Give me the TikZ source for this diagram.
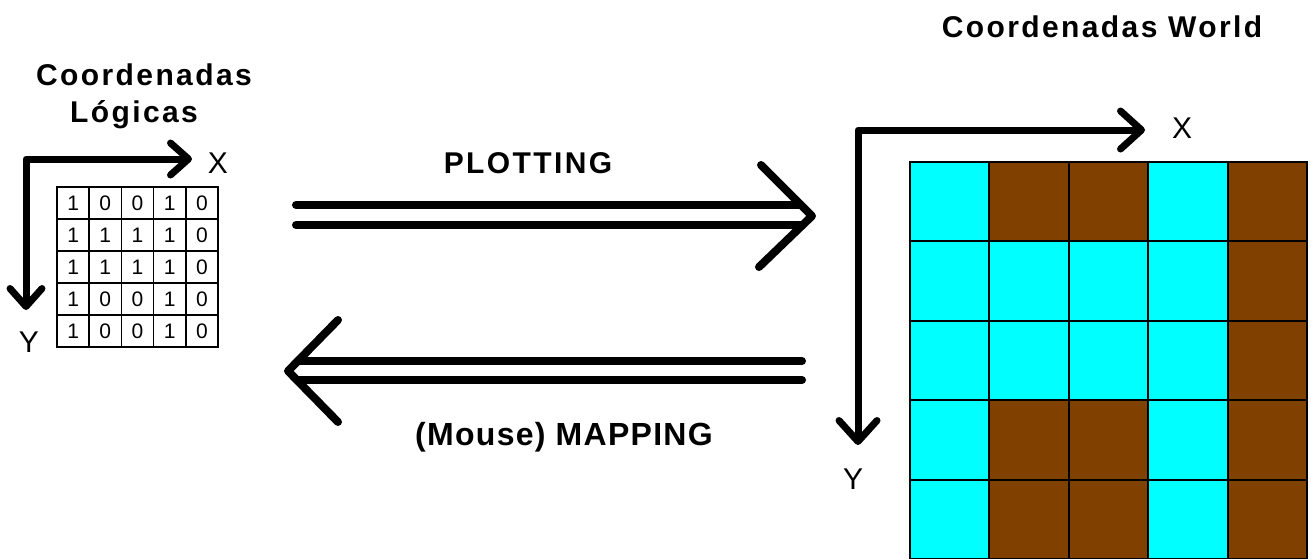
\documentclass[tikz,border=0pt]{standalone}
\usepackage{fontspec}
\setmainfont{Liberation Sans}
\newfontfamily\spaced[LetterSpace=8]{Liberation Sans}
\newfontfamily\lightspaced[LetterSpace=4]{Liberation Sans}
\usetikzlibrary{arrows.meta}
\definecolor{cy}{RGB}{0,255,255}
\definecolor{br}{RGB}{128,64,0}
\begin{document}
\begin{tikzpicture}[x=1pt,y=-1pt,
  title/.style={font=\spaced\bfseries\fontsize{30}{36}\selectfont, inner sep=0pt, anchor=base},
  plain/.style={font=\lightspaced\bfseries\fontsize{32}{38}\selectfont, inner sep=0pt, anchor=base},
  axlbl/.style={font=\fontsize{30}{36}\selectfont, inner sep=0pt},
  scell/.style={draw=black, line width=1.5pt, minimum width=32.2pt, minimum height=32pt, inner sep=0pt, font=\fontsize{21}{24}\selectfont},
  bcell/.style={draw=black, line width=2pt, minimum width=79.4pt, minimum height=79.4pt, inner sep=0pt},
  b1/.style={fill=cy}, b0/.style={fill=br},
  laxis/.style={line width=7pt, line join=round, {Straight Barb[length=18pt,width=32pt,round]}-{Straight Barb[length=18pt,width=32pt,round]}},
  raxis/.style={line width=7pt, line join=round, {Straight Barb[length=21pt,width=38pt,round]}-{Straight Barb[length=21pt,width=38pt,round]}},
  dbl/.style={line width=8pt, line cap=round, line join=round}]
\useasboundingbox (0,0) rectangle (1311,558);
\fill[white] (0,0) rectangle (1311,558);

% ---- left panel ----
\node[title] (t1) at (144,85) {Coordenadas};
\node[title] (t2) at (134,122) {Lógicas};
\foreach \r/\row in {1/{1,0,0,1,0},2/{1,1,1,1,0},3/{1,1,1,1,0},4/{1,0,0,1,0},5/{1,0,0,1,0}}{
  \foreach \v [count=\c] in \row {
    \node[scell] (s-\r-\c) at ({57+32.2*(\c-0.5)},{187+32*(\r-0.5)}) {\v};
  }
}
\coordinate (LO) at (26,159);
\coordinate (LX) at (192,159);
\coordinate (LY) at (26,310);
\draw[laxis] (LX) -- (LO) -- (LY);
\node[axlbl] (lxl) at (218,163) {X};
\node[axlbl] (lyl) at (29,342) {Y};

% ---- arrows ----
\node[title] (plot) at (528,173) {PLOTTING};
\coordinate (P1a) at (296,205); \coordinate (P1b) at (801,205);
\coordinate (P2a) at (296,225); \coordinate (P2b) at (801,225);
\coordinate (PU) at (761,165); \coordinate (PT) at (812,216); \coordinate (PD) at (759,267);
\draw[dbl] (P1a) -- (P1b);
\draw[dbl] (P2a) -- (P2b);
\draw[dbl] (PU) -- (PT) -- (PD);

\node[plain] (map) at (564,445) {(Mouse) MAPPING};
\coordinate (M1a) at (802,361); \coordinate (M1b) at (298,361);
\coordinate (M2a) at (802,380); \coordinate (M2b) at (298,380);
\coordinate (MU) at (338,320); \coordinate (MT) at (288,371); \coordinate (MD) at (338,422);
\draw[dbl] (M1a) -- (M1b);
\draw[dbl] (M2a) -- (M2b);
\draw[dbl] (MU) -- (MT) -- (MD);

% ---- right panel ----
\node[title] (t3) at (1102,37) {Coordenadas World};
\begin{scope}
\clip (0,0) rectangle (1311,558);
\foreach \r/\row in {1/{1,0,0,1,0},2/{1,1,1,1,0},3/{1,1,1,1,0},4/{1,0,0,1,0},5/{1,0,0,1,0}}{
  \foreach \v [count=\c] in \row {
    \node[bcell, b\v] (b-\r-\c) at ({910+79.4*(\c-0.5)},{162+79.4*(\r-0.5)}) {};
  }
}
\end{scope}
\coordinate (RO) at (858,130);
\coordinate (RX) at (1145,130);
\coordinate (RY) at (858,445);
\draw[raxis] (RX) -- (RO) -- (RY);
\node[axlbl] (rxl) at (1182,128) {X};
\node[axlbl] (ryl) at (853,479) {Y};
\end{tikzpicture}
\end{document}
